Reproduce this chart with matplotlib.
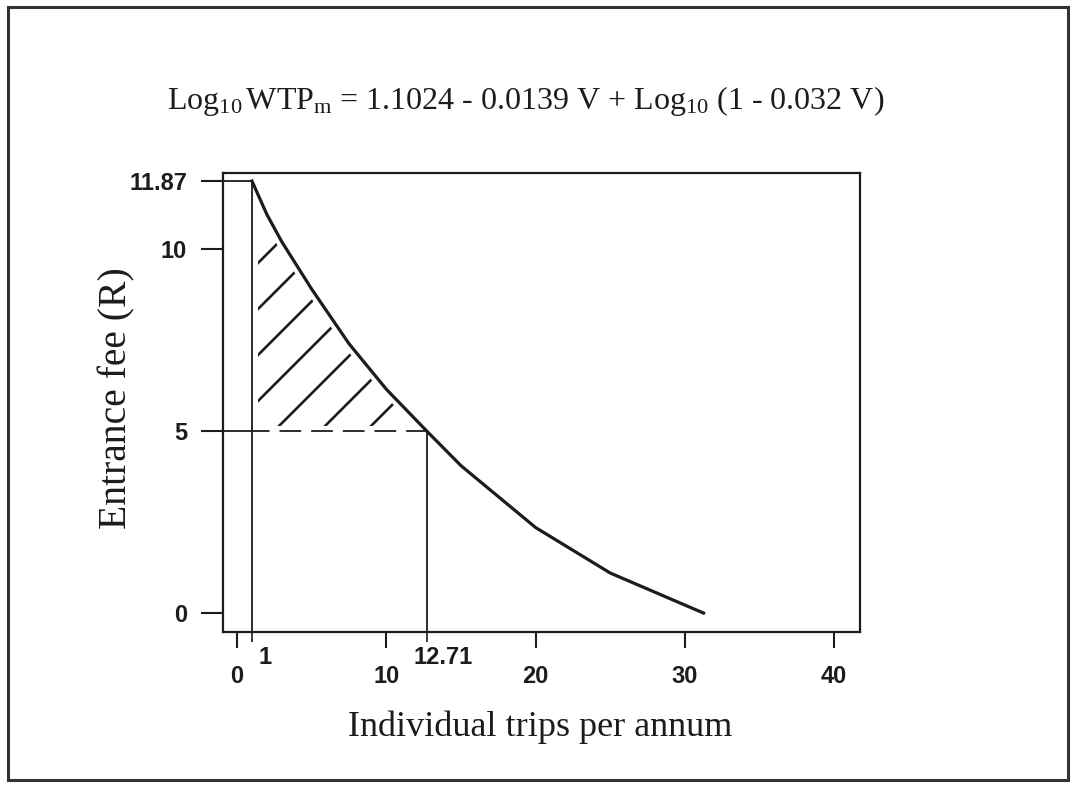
import matplotlib
matplotlib.use('Agg')
import matplotlib.pyplot as plt
import numpy as np
from matplotlib.collections import LineCollection
from matplotlib.patches import Rectangle
from matplotlib.transforms import IdentityTransform

# ---- data ----
trips = [1, 2, 3, 5, 7.5, 10, 12.71, 15, 20, 25, 31.25]
fee = [11.87, 10.95, 10.2, 8.9, 7.4, 6.15, 5.0, 4.05, 2.35, 1.1, 0.0]
x_ticks = [0, 10, 20, 30, 40]
x_tick_labels = ['0', '10', '20', '30', '40']
y_ticks = [0, 5, 10, 11.87]
y_tick_labels = ['0', '5', '10', '11.87']
v_low = 1
v_eq = 12.71
p_eq = 5
title = (r'$\mathrm{Log}_{10}\,\mathrm{WTP}_{\mathrm{m}}$ = 1.1024 - 0.0139 V + '
         r'$\mathrm{Log}_{10}$ (1 - 0.032 V)')
x_label = 'Individual trips per annum'
y_label = 'Entrance fee (R)'

ink = '#1c1c1c'
plt.rcParams['font.family'] = ['Liberation Sans', 'DejaVu Sans']
plt.rcParams['mathtext.fontset'] = 'custom'
plt.rcParams['mathtext.rm'] = 'Liberation Serif'
plt.rcParams['mathtext.it'] = 'Liberation Serif:italic'
plt.rcParams['mathtext.bf'] = 'Liberation Serif:bold'
plt.rcParams['lines.scale_dashes'] = False

W, H = 1075, 785
fig = plt.figure(figsize=(W / 100, H / 100), dpi=100)
fig.patch.set_facecolor('white')
ax = fig.add_axes([223 / W, 1 - 632 / H, 637 / W, 459 / H])
ax.set_xlim(-0.94, 41.73)
ax.set_ylim(-0.52, 12.09)
xmin, xmax = ax.get_xlim()

for s in ax.spines.values():
    s.set_linewidth(1.6)
    s.set_color(ink)

# ticks
ax.set_xticks(x_ticks, x_tick_labels)
ax.set_yticks(y_ticks, y_tick_labels)
ax.tick_params(axis='x', direction='out', length=11.5, width=1.5, pad=12,
               labelsize=17, color=ink, labelcolor=ink)
ax.tick_params(axis='y', direction='out', length=16, width=1.5, pad=10,
               labelsize=17, color=ink, labelcolor=ink)
for lab in ax.get_xticklabels() + ax.get_yticklabels():
    lab.set_fontweight('bold')
ax.set_xticks([v_low, v_eq], minor=True)
ax.tick_params(axis='x', which='minor', direction='out', length=7, width=1.2,
               color=ink, labelbottom=False)

# region of consumer surplus (hatched)
k = trips.index(v_eq) + 1
poly = ax.fill_between(trips[:k], p_eq, fee[:k], facecolor='none', edgecolor='none')

corner = ax.transData.transform((v_low, p_eq))
span = 500
segs = []
for off in 22 + 46 * np.arange(-4, 3):
    x0 = corner[0] + off
    segs.append([(x0 - span, corner[1] - span), (x0 + span, corner[1] + span)])
lc = LineCollection(segs, colors=ink, linewidths=1.9, transform=IdentityTransform(),
                    zorder=2)
ax.add_collection(lc, autolim=False)
lc.set_clip_path(poly.get_paths()[0], poly.get_transform())

# white underlays so hatch stops short of boundaries
ax.plot(trips[:k], fee[:k], color='white', lw=8, zorder=3, solid_capstyle='butt')
ax.plot([v_low, v_low], [p_eq, fee[0]], color='white', lw=8, zorder=3)
ax.plot([v_low, v_eq], [p_eq, p_eq], color='white', lw=8, zorder=3)

# reference lines
ax.plot([xmin, v_low], [fee[0], fee[0]], color=ink, lw=1.3, zorder=4, clip_on=False)
ax.plot([v_low, v_low], [fee[0], ax.get_ylim()[0]], color=ink, lw=1.3, zorder=4)
ax.plot([xmin, v_low], [p_eq, p_eq], color=ink, lw=1.3, zorder=4)
ax.plot([v_low, v_eq], [p_eq, p_eq], color=ink, lw=1.3, zorder=4,
        linestyle=(3, (15.6, 7.2)))
ax.plot([v_eq, v_eq], [p_eq, ax.get_ylim()[0]], color=ink, lw=1.3, zorder=4)

# demand curve
ax.plot(trips, fee, color=ink, lw=2.3, zorder=5, solid_joinstyle='round')

# special x labels
xt = ax.get_xaxis_transform()
ax.annotate('1', xy=(v_low, 0), xycoords=xt, xytext=(9.4, -18.7),
            textcoords='offset points', ha='center', va='center', fontsize=17,
            fontweight='bold', color=ink, annotation_clip=False)
ax.annotate(f'{v_eq:.2f}', xy=(v_eq, 0), xycoords=xt, xytext=(12, -18.7),
            textcoords='offset points', ha='center', va='center', fontsize=17,
            fontweight='bold', color=ink, annotation_clip=False)

# texts
fig.text(526 / W, 1 - 101 / H, title, ha='center', va='center', fontsize=23,
         family='Liberation Serif', color=ink)
fig.text(540 / W, 1 - 727 / H, x_label, ha='center', va='center', fontsize=26,
         family='Liberation Serif', color=ink)
fig.text(117 / W, 1 - 398 / H, y_label, ha='center', va='center', fontsize=28.5,
         family='Liberation Serif', rotation=90, color=ink)

# outer frame
fig.add_artist(Rectangle((8 / W, 5 / H), 1060 / W, 773 / H, transform=fig.transFigure,
                         fill=False, lw=2.2, ec='#333333'))

fig.savefig('out.png', dpi=100, facecolor='white')
